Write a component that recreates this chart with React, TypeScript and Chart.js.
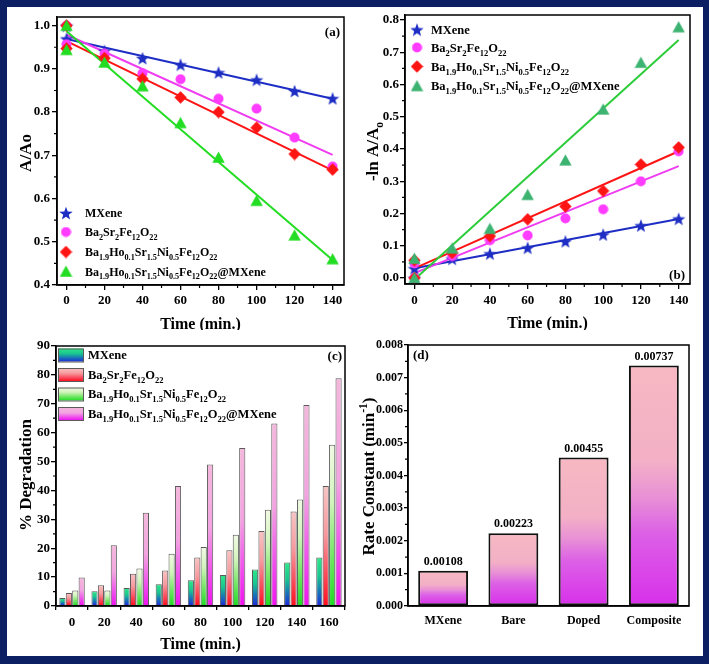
import React, { useEffect, useRef } from "react";
import { Chart, registerables } from "chart.js";
Chart.register(...registerables);

const SERIF = '"Liberation Serif", "Times New Roman", Times, serif';

// ---------------- Panel (a): A/Ao vs time ----------------
const timeAB = [0, 0, 20, 40, 60, 80, 100, 120, 140];
const mxeneA = [1.0, 0.97, 0.942, 0.925, 0.91, 0.892, 0.875, 0.849, 0.832];
const bareA = [1.0, 0.957, 0.935, 0.89, 0.876, 0.831, 0.808, 0.741, 0.674];
const dopedA = [1.0, 0.947, 0.925, 0.877, 0.834, 0.8, 0.764, 0.703, 0.667];
const compA = [1.0, 0.944, 0.915, 0.86, 0.775, 0.695, 0.595, 0.515, 0.46];
const fitT = [0, 140];
const mxeneFitA = [0.969, 0.831];
const bareFitA = [0.979, 0.701];
const dopedFitA = [0.964, 0.665];
const compFitA = [0.987, 0.458];
const xTicksAB = [0, 20, 40, 60, 80, 100, 120, 140];
const xMinorAB = [10, 30, 50, 70, 90, 110, 130];
const yTicksA = [0.4, 0.5, 0.6, 0.7, 0.8, 0.9, 1.0];
const yMinorA = [0.45, 0.55, 0.65, 0.75, 0.85, 0.95];

// ---------------- Panel (b): -ln A/Ao vs time ----------------
const mxeneB = [0, 0.03, 0.06, 0.076, 0.094, 0.114, 0.135, 0.163, 0.184];
const bareB = [0, 0.045, 0.068, 0.117, 0.132, 0.185, 0.213, 0.3, 0.393];
const dopedB = [0, 0.055, 0.078, 0.13, 0.182, 0.222, 0.27, 0.352, 0.405];
const compB = [0, 0.06, 0.092, 0.153, 0.258, 0.365, 0.523, 0.668, 0.778];
const mxeneFitB = [0.03, 0.183];
const bareFitB = [0.015, 0.347];
const dopedFitB = [0.03, 0.393];
const compFitB = [-0.005, 0.738];
const yTicksB = [0, 0.1, 0.2, 0.3, 0.4, 0.5, 0.6, 0.7, 0.8];
const yMinorB = [0.05, 0.15, 0.25, 0.35, 0.45, 0.55, 0.65, 0.75];

// ---------------- Panel (c): % degradation ----------------
const timeC = ["0", "20", "40", "60", "80", "100", "120", "140", "160"];
const mxeneC = [2.8, 5.1, 6.2, 7.5, 8.9, 10.7, 12.6, 15.1, 16.8];
const bareC = [4.5, 7.2, 11.2, 12.3, 16.8, 19.3, 26.0, 32.7, 41.5];
const dopedC = [5.4, 5.4, 13.0, 18.1, 20.4, 24.7, 33.3, 36.9, 55.8];
const compC = [9.9, 21.0, 32.3, 41.5, 49.0, 54.7, 63.2, 69.6, 78.8];
const yTicksC = [0, 10, 20, 30, 40, 50, 60, 70, 80, 90];
const yMinorC = [5, 15, 25, 35, 45, 55, 65, 75, 85];

// ---------------- Panel (d): rate constants ----------------
const catsD = ["MXene", "Bare", "Doped", "Composite"];
const rateD = [0.00108, 0.00223, 0.00455, 0.00737];
const rateLabelsD = ["0.00108", "0.00223", "0.00455", "0.00737"];
const yTicksD = [0, 0.001, 0.002, 0.003, 0.004, 0.005, 0.006, 0.007, 0.008];
const yMinorD = [0.0005, 0.0015, 0.0025, 0.0035, 0.0045, 0.0055, 0.0065, 0.0075];

// ---------------- Legend names (chemical formulas) ----------------
type Seg = [string, number]; // 0 normal, 1 subscript, 2 superscript
const F_MX: Seg[] = [["MXene", 0]];
const F_BARE: Seg[] = [["Ba", 0], ["2", 1], ["Sr", 0], ["2", 1], ["Fe", 0], ["12", 1], ["O", 0], ["22", 1]];
const F_DOPED: Seg[] = [
  ["Ba", 0], ["1.9", 1], ["Ho", 0], ["0.1", 1], ["Sr", 0], ["1.5", 1],
  ["Ni", 0], ["0.5", 1], ["Fe", 0], ["12", 1], ["O", 0], ["22", 1],
];
const F_COMP: Seg[] = [...F_DOPED, ["@MXene", 0]];
const NAMES = [F_MX, F_BARE, F_DOPED, F_COMP];

// ---------------- Colours ----------------
const BLUE = "#1e2ec4";
const PINK = "#ff3cff";
const PINK_LINE = "#f03cf0";
const RED = "#ff1414";
const GREEN_A = "#22dd22";
const GREEN_B_PT = "#3cb371";
const GREEN_B_LINE = "#2ccc3a";

const GRAD_C: [number, string][][] = [
  [[0, "#2ee888"], [0.4, "#1ac490"], [0.7, "#1878b4"], [1, "#1a2ed8"]],
  [[0, "#f8c4c4"], [0.4, "#f69a9e"], [0.7, "#f95464"], [1, "#ff1020"]],
  [[0, "#f2fae4"], [0.35, "#d2f4bc"], [0.65, "#80e870"], [1, "#20dc24"]],
  [[0, "#f4b8dc"], [0.45, "#f2a4e0"], [0.7, "#f062ea"], [1, "#ee14ee"]],
];
const GRAD_D: [number, string][] = [[0, "#f7b8c2"], [0.4, "#f3b0c6"], [0.55, "#e890d6"], [0.7, "#dc60e6"], [1, "#d830ea"]];

// ---------------- Helpers ----------------
function drawRich(ctx: CanvasRenderingContext2D, segs: Seg[], x: number, yMid: number, size: number, align: string) {
  const sub = size * 0.68;
  const fontFor = (k: number) => `bold ${k ? sub : size}px ${SERIF}`;
  let w = 0;
  for (const [t, k] of segs) { ctx.font = fontFor(k); w += ctx.measureText(t).width; }
  let cx = align === "left" ? x : align === "center" ? x - w / 2 : x - w;
  const base = yMid + size * 0.35;
  ctx.textAlign = "left";
  ctx.textBaseline = "alphabetic";
  ctx.fillStyle = "#000";
  for (const [t, k] of segs) {
    ctx.font = fontFor(k);
    const dy = k === 1 ? size * 0.3 : k === 2 ? -size * 0.42 : 0;
    ctx.fillText(t, cx, base + dy);
    cx += ctx.measureText(t).width;
  }
}
function drawRichV(ctx: CanvasRenderingContext2D, segs: Seg[], x: number, y: number, size: number) {
  ctx.save();
  ctx.translate(x, y);
  ctx.rotate(-Math.PI / 2);
  drawRich(ctx, segs, 0, 0, size, "center");
  ctx.restore();
}

function marker(shape: string, color: string, size: number): HTMLCanvasElement {
  const c = document.createElement("canvas");
  c.width = size; c.height = size;
  const g = c.getContext("2d")!;
  g.fillStyle = color;
  const m = size / 2;
  g.beginPath();
  if (shape === "star") {
    const R = m, r = m * 0.42;
    for (let i = 0; i < 10; i++) {
      const a = -Math.PI / 2 + (i * Math.PI) / 5;
      const rr = i % 2 ? r : R;
      g.lineTo(m + rr * Math.cos(a), m + 0.8 + rr * Math.sin(a));
    }
  } else if (shape === "circle") {
    g.arc(m, m, m - 0.5, 0, Math.PI * 2);
  } else if (shape === "diamond") {
    g.moveTo(m, 0.3); g.lineTo(size - 0.3, m); g.lineTo(m, size - 0.3); g.lineTo(0.3, m);
  } else {
    g.moveTo(m, 0.5); g.lineTo(size - 0.3, size - 1.2); g.lineTo(0.3, size - 1.2);
  }
  g.closePath();
  g.fill();
  return c;
}

// Per-bar vertical gradients, built from each bar's drawn geometry.
const barGradient = (stopsFor: (di: number) => [number, string][]) => ({
  id: "barGradient",
  beforeDatasetsDraw(chart: any) {
    chart.data.datasets.forEach((_ds: any, di: number) => {
      const meta = chart.getDatasetMeta(di);
      const stops = stopsFor(di);
      meta.data.forEach((el: any) => {
        const top = Math.min(el.y, el.base);
        const bot = Math.max(el.y, el.base);
        if (!isFinite(top) || !isFinite(bot) || bot - top < 0.5) return;
        const g = chart.ctx.createLinearGradient(0, top, 0, bot);
        for (const [o, col] of stops) g.addColorStop(o, col);
        el.options.backgroundColor = g;
      });
    });
  },
});

function axis(size: number, tickLen: number, pad: number, drawTicks = true) {
  return {
    grid: { drawOnChartArea: false, drawTicks, tickLength: tickLen, color: "#000", lineWidth: 1.3 },
    border: { display: true, color: "#000", width: 1.5 },
    ticks: { color: "#000", padding: pad, font: { family: SERIF, size, weight: "bold" } },
  };
}
const fixX = (h: number) => (s: any) => { s.height = h; s.paddingLeft = 0; s.paddingRight = 0; };
const fixY = (w: number) => (s: any) => { s.width = w; s.paddingTop = 0; s.paddingBottom = 0; };
const setTicks = (vals: number[]) => (s: any) => { s.ticks = vals.map((v) => ({ value: v })); };

function frameAndMinor(chart: any, ctx: CanvasRenderingContext2D, xMinor: number[] | null, yMinor: number[]) {
  const a = chart.chartArea;
  ctx.strokeStyle = "#000";
  ctx.lineWidth = 1.5;
  ctx.strokeRect(a.left, a.top, a.right - a.left, a.bottom - a.top);
  ctx.lineWidth = 1.2;
  ctx.beginPath();
  for (const v of yMinor) {
    const p = chart.scales.y.getPixelForValue(v);
    ctx.moveTo(a.left - 3, p); ctx.lineTo(a.left, p);
  }
  if (xMinor) {
    for (const v of xMinor) {
      const p = chart.scales.x.getPixelForValue(v);
      ctx.moveTo(p, a.bottom); ctx.lineTo(p, a.bottom + 3);
    }
  }
  ctx.stroke();
}

function label(ctx: CanvasRenderingContext2D, text: string, x: number, y: number, size: number, align: CanvasTextAlign) {
  ctx.font = `bold ${size}px ${SERIF}`;
  ctx.fillStyle = "#000";
  ctx.textAlign = align;
  ctx.textBaseline = "middle";
  ctx.fillText(text, x, y);
}

const overlay = (fn: (chart: any, ctx: CanvasRenderingContext2D) => void) => ({
  id: "overlay",
  afterDraw(chart: any) {
    const ctx = chart.ctx;
    ctx.save();
    fn(chart, ctx);
    ctx.restore();
  },
});

const pts = (xs: number[], ys: number[]) => xs.map((x, i) => ({ x, y: ys[i] }));

// ---------------- Chart configs ----------------
function scatterConfig(opts: {
  series: number[][]; fits: number[][]; ptColors: string[]; lineColors: string[];
  yMin: number; yMax: number; yTicks: number[]; yMinor: number[];
  padTop: number; padRight: number; yW: number; xH: number; xPad: number; yPad: number;
  yTitle: Seg[]; yTitleDx: number; legendDx: number; textDx: number; rows: number[]; legendSize: number;
  panel: string; panelPos: (a: any) => [number, number, CanvasTextAlign];
}) {
  const shapes = ["star", "circle", "diamond", "triangle"];
  const sizes = [14, 11, 13, 13];
  const imgs = shapes.map((s, i) => marker(s, opts.ptColors[i], sizes[i]));
  const pointSets = [3, 2, 1, 0].map((i) => ({
    data: pts(timeAB, opts.series[i]),
    pointStyle: imgs[i],
    pointRadius: 5,
    showLine: false,
  }));
  const fitSets = [3, 2, 1, 0].map((i) => ({
    data: pts(fitT, opts.fits[i]),
    showLine: true,
    pointRadius: 0,
    borderColor: opts.lineColors[i],
    borderWidth: 2,
  }));
  return {
    type: "scatter",
    data: { datasets: [...pointSets, ...fitSets] },
    options: {
      animation: false,
      responsive: false,
      events: [],
      layout: { padding: { left: 0, top: opts.padTop, right: opts.padRight, bottom: 0 } },
      plugins: { legend: { display: false }, tooltip: { enabled: false } },
      scales: {
        x: {
          type: "linear", min: -5, max: 146,
          afterBuildTicks: setTicks(xTicksAB), afterFit: fixX(opts.xH),
          ...axis(13, 5, opts.xPad),
        },
        y: {
          type: "linear", min: opts.yMin, max: opts.yMax,
          afterBuildTicks: setTicks(opts.yTicks), afterFit: fixY(opts.yW),
          ...axis(13, 5, opts.yPad),
          ticks: { ...axis(13, 5, opts.yPad).ticks, callback: (v: number) => v.toFixed(1) },
        },
      },
    },
    plugins: [
      overlay((chart, ctx) => {
        const a = chart.chartArea;
        frameAndMinor(chart, ctx, xMinorAB, opts.yMinor);
        drawRichV(ctx, opts.yTitle, a.left + opts.yTitleDx, (a.top + a.bottom) / 2 + 2, 17);
        label(ctx, "Time (min.)", (a.left + a.right) / 2, a.bottom + 40, 16, "center");
        for (let i = 0; i < 4; i++) {
          const y = a.top + opts.rows[i];
          const img = imgs[i];
          ctx.drawImage(img, a.left + opts.legendDx - img.width / 2, y - img.height / 2);
          drawRich(ctx, NAMES[i], a.left + opts.textDx, y, opts.legendSize, "left");
        }
        const [px, py, al] = opts.panelPos(a);
        label(ctx, opts.panel, px, py, 13, al);
      }),
    ],
  };
}

function makeA() {
  return scatterConfig({
    series: [mxeneA, bareA, dopedA, compA],
    fits: [mxeneFitA, bareFitA, dopedFitA, compFitA],
    ptColors: [BLUE, PINK, RED, GREEN_A],
    lineColors: [BLUE, PINK_LINE, RED, GREEN_A],
    yMin: 0.4, yMax: 1.02, yTicks: yTicksA, yMinor: yMinorA,
    padTop: 9, padRight: 9, yW: 49, xH: 45, xPad: 3, yPad: 2,
    yTitle: [["A/Ao", 0]], yTitleDx: -32,
    legendDx: 9, textDx: 28, rows: [196, 215, 235, 254.5], legendSize: 12,
    panel: "(a)", panelPos: (a) => [a.right - 4, a.top + 16, "right"],
  });
}

function makeB() {
  return scatterConfig({
    series: [mxeneB, bareB, dopedB, compB],
    fits: [mxeneFitB, bareFitB, dopedFitB, compFitB],
    ptColors: [BLUE, PINK, RED, GREEN_B_PT],
    lineColors: [BLUE, PINK_LINE, RED, GREEN_B_LINE],
    yMin: -0.0186, yMax: 0.8155, yTicks: yTicksB, yMinor: yMinorB,
    padTop: 7, padRight: 11, yW: 50, xH: 46, xPad: 4, yPad: 1,
    yTitle: [["-ln A/A", 0], ["o", 1]], yTitleDx: -33,
    legendDx: 12, textDx: 26, rows: [14.5, 32.5, 51.5, 71], legendSize: 12.5,
    panel: "(b)", panelPos: (a) => [a.right - 5, a.bottom - 8, "right"],
  });
}

function makeC() {
  const vals = [mxeneC, bareC, dopedC, compC];
  return {
    type: "bar",
    data: {
      labels: timeC,
      datasets: vals.map((v, i) => ({
        data: v,
        backgroundColor: () => GRAD_C[i][GRAD_C[i].length - 1][1],
        borderColor: "#5a5a5a",
        borderWidth: 1,
        categoryPercentage: 0.8,
        barPercentage: 0.96,
      })),
    },
    options: {
      animation: false,
      responsive: false,
      events: [],
      layout: { padding: { left: 0, top: 16, right: 8, bottom: 0 } },
      plugins: { legend: { display: false }, tooltip: { enabled: false } },
      scales: {
        x: { afterFit: fixX(49), ...axis(13, 4, 5) },
        y: {
          type: "linear", min: 0, max: 90,
          afterBuildTicks: setTicks(yTicksC), afterFit: fixY(48),
          ...axis(13, 5, 1),
        },
      },
    },
    plugins: [
      barGradient((di) => GRAD_C[di]),
      overlay((chart, ctx) => {
        const a = chart.chartArea;
        frameAndMinor(chart, ctx, null, yMinorC);
        drawRichV(ctx, [["% Degradation", 0]], a.left - 31, (a.top + a.bottom) / 2 - 1, 17);
        label(ctx, "Time (min.)", (a.left + a.right) / 2, a.bottom + 39, 16, "center");
        const rows = [9, 28.5, 48, 67.5];
        for (let i = 0; i < 4; i++) {
          const y = a.top + rows[i];
          const bx = a.left + 2, bw = 25, bh = 13;
          const g = ctx.createLinearGradient(0, y - bh / 2, 0, y + bh / 2);
          for (const [o, col] of GRAD_C[i]) g.addColorStop(o, col);
          ctx.fillStyle = g;
          ctx.fillRect(bx, y - bh / 2, bw, bh);
          ctx.strokeStyle = "#5a5a5a";
          ctx.lineWidth = 1;
          ctx.strokeRect(bx + 0.5, y - bh / 2 + 0.5, bw, bh);
          drawRich(ctx, NAMES[i], a.left + 32, y, 12.5, "left");
        }
        label(ctx, "(c)", a.right - 3, a.top + 11, 13, "right");
      }),
    ],
  };
}

function makeD() {
  return {
    type: "bar",
    data: {
      labels: catsD,
      datasets: [{
        data: rateD,
        backgroundColor: () => GRAD_D[GRAD_D.length - 1][1],
        borderColor: "#111",
        borderWidth: 2,
        borderSkipped: false,
        categoryPercentage: 1,
        barPercentage: 0.71,
      }],
    },
    options: {
      animation: false,
      responsive: false,
      events: [],
      layout: { padding: { left: 0, top: 15, right: 12, bottom: 0 } },
      plugins: { legend: { display: false }, tooltip: { enabled: false } },
      scales: {
        x: { afterFit: fixX(49), ...axis(12, 0, 8, false) },
        y: {
          type: "linear", min: 0, max: 0.008,
          afterBuildTicks: setTicks(yTicksD), afterFit: fixY(53),
          ...axis(12, 4, 1),
          ticks: { ...axis(12, 4, 1).ticks, callback: (v: number) => v.toFixed(3) },
        },
      },
    },
    plugins: [
      barGradient(() => GRAD_D),
      overlay((chart, ctx) => {
        const a = chart.chartArea;
        frameAndMinor(chart, ctx, null, yMinorD);
        drawRichV(ctx, [["Rate Constant (min", 0], ["-1", 2], [")", 0]], a.left - 40, (a.top + a.bottom) / 2 + 1, 17);
        const meta = chart.getDatasetMeta(0);
        meta.data.forEach((bar: any, i: number) => {
          label(ctx, rateLabelsD[i], bar.x, bar.y - 9, 12, "center");
        });
        label(ctx, "(d)", a.left + 5, a.top + 11, 13, "left");
      }),
    ],
  };
}

function Panel(props: { left: number; top: number; width: number; height: number; make: () => any }) {
  const ref = useRef<HTMLCanvasElement>(null);
  useEffect(() => {
    const chart = new Chart(ref.current as HTMLCanvasElement, props.make());
    return () => chart.destroy();
  }, []);
  const { left, top, width, height } = props;
  return (
    <canvas
      ref={ref}
      width={width}
      height={height}
      style={{ position: "absolute", left, top, width, height }}
    />
  );
}

export default function App() {
  return (
    <div style={{ position: "absolute", left: 0, top: 0, width: 709, height: 664, background: "#fff", overflow: "hidden" }}>
      <Panel left={8} top={8} width={345} height={322} make={makeA} />
      <Panel left={355} top={8} width={346} height={322} make={makeB} />
      <Panel left={8} top={330} width={345} height={325} make={makeC} />
      <Panel left={355} top={330} width={346} height={325} make={makeD} />
      <div
        style={{
          position: "absolute", left: 0, top: 0, width: 709, height: 664, boxSizing: "border-box",
          borderStyle: "solid", borderColor: "#0c1f62",
          borderLeftWidth: 7, borderTopWidth: 7, borderRightWidth: 6, borderBottomWidth: 8,
          pointerEvents: "none",
        }}
      />
    </div>
  );
}
